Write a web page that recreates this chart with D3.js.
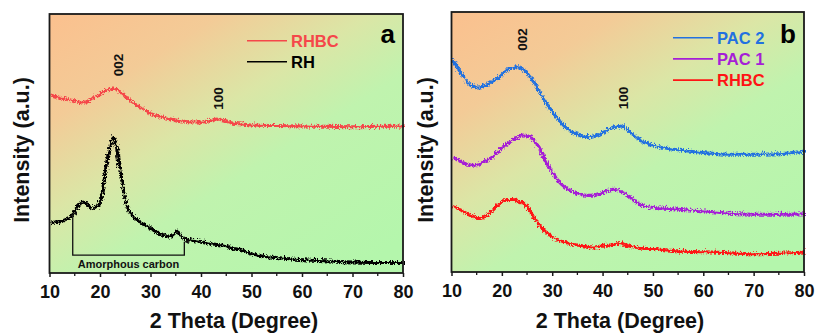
<!DOCTYPE html>
<html>
<head>
<meta charset="utf-8">
<script src="https://cdn.jsdelivr.net/npm/d3@7"></script>
<style>
  body { margin: 0; background: #fff; }
  svg { display: block; font-family: "Liberation Sans", Arial, sans-serif; }
</style>
</head>
<body>
<script>
// XRD patterns (2 theta in degrees, intensity in a.u.)

// panel a
var thetaRHBCa = [10,12,14,15,16,17,18,19,20,21,22,23,24,25,26,27,28,29,30,32,34,36,38,40,42,43,44,46,48,50,55,60,65,70,75,80];
var rhbcA = [69.1,68.0,67.2,66.8,66.4,66.4,67.6,68.7,69.9,71.0,71.4,71.4,69.9,68.3,66.8,65.3,64.1,62.9,61.8,60.6,59.8,59.1,58.7,58.7,59.5,59.8,59.5,58.3,57.9,57.5,57.3,57.1,57.0,56.9,57.0,57.1];

var thetaRH = [10,11,12,13,14,15,16,17,18,19,20,20.5,21,21.5,22,22.5,23,23.5,24,25,26,27,28,29,30,31,32,33,34,35,36,37,38,40,42,44,46,48,50,52,55,60,65,70,75,80];
var rh = [19.8,20.2,20.5,21.2,22.4,25.1,27.8,27.5,25.5,25.9,29.5,35.0,41.7,47.0,51.4,52.6,49.4,43.0,37.2,27.0,23.2,21.2,19.8,18.5,17.4,16.2,15.1,14.7,14.7,16.6,14.3,13.5,13.0,12.5,11.6,11.2,10.0,9.2,7.8,6.9,6.3,5.5,5.0,4.6,4.4,4.4];

// panel b
var thetaB = [10,11,12,13,14,15,16,17,18,19,20,21,22,23,24,25,26,27,28,29,30,31,32,33,34,35,36,37,38,39,40,41,42,43,44,45,46,47,48,49,50,52,55,60,65,70,75,80];
var pac2 = [82.2,79.0,75.8,73.2,71.9,71.5,71.9,72.6,73.8,75.1,77.0,78.3,79.0,79.3,78.3,76.4,73.8,70.7,67.4,64.2,61.4,59.1,56.9,55.3,54.0,53.3,52.7,52.4,52.7,53.3,54.3,55.3,56.2,56.5,56.2,54.6,53.0,51.4,50.4,49.6,49.1,48.2,47.3,46.3,45.7,45.7,45.9,46.9];
var pac1 = [44.3,43.7,42.4,41.8,41.4,41.8,42.8,43.7,45.0,46.7,48.5,50.1,51.4,52.3,53.1,52.7,51.4,48.8,45.0,41.2,38.0,35.4,33.5,32.2,31.3,30.5,30.0,29.9,30.0,30.5,31.2,31.9,32.2,31.9,30.9,29.6,28.0,26.7,25.8,25.4,25.2,24.9,24.5,23.8,23.0,22.6,22.6,22.8];
var rhbcB = [25.8,25.1,23.8,22.8,21.9,21.3,21.5,22.6,24.5,26.4,27.7,28.3,28.3,27.7,27.0,25.1,21.9,19.0,16.8,15.1,13.6,12.6,11.9,11.5,11.0,10.7,10.4,10.2,10.0,10.2,10.4,10.8,11.0,11.3,11.0,10.4,10.0,9.6,9.5,9.4,9.4,9.0,8.5,8.2,7.8,7.4,7.6,8.1];

var xTicks = [10,20,30,40,50,60,70,80];
var xMinor = [15,25,35,45,55,65,75];

var W = 816, H = 334;

var svg = d3.select("body").append("svg")
  .attr("width", W)
  .attr("height", H);

var defs = svg.append("defs");

// orange -> green backdrop
var grad = defs.append("linearGradient")
  .attr("id", "bg")
  .attr("x1", 0).attr("y1", 0)
  .attr("x2", 0.85).attr("y2", 1);
grad.append("stop").attr("offset", "0%").attr("stop-color", "#fbc08e");
grad.append("stop").attr("offset", "24%").attr("stop-color", "#f3cb97");
grad.append("stop").attr("offset", "45%").attr("stop-color", "#dbe6a6");
grad.append("stop").attr("offset", "63%").attr("stop-color", "#c0f3ae");
grad.append("stop").attr("offset", "100%").attr("stop-color", "#b4f6ac");

// rough up the strokes a little so they look like raw scans
var rough = defs.append("filter")
  .attr("id", "rough")
  .attr("x", "-5%").attr("y", "-20%")
  .attr("width", "110%").attr("height", "140%");
rough.append("feTurbulence")
  .attr("type", "turbulence")
  .attr("baseFrequency", "1.1 0.3")
  .attr("numOctaves", 2)
  .attr("seed", 3)
  .attr("result", "noise");
rough.append("feDisplacementMap")
  .attr("in", "SourceGraphic")
  .attr("in2", "noise")
  .attr("scale", 5)
  .attr("xChannelSelector", "R")
  .attr("yChannelSelector", "G");

defs.append("marker")
  .attr("id", "tip")
  .attr("viewBox", "0 0 6 6")
  .attr("refX", 3).attr("refY", 0)
  .attr("markerWidth", 3.5).attr("markerHeight", 3.5)
  .attr("orient", "auto-start-reverse")
  .append("path")
  .attr("d", "M0,6 L3,0 L6,6 Z")
  .attr("fill", "#111");

var panels = [
  {
    left: 49.5, top: 14, right: 403, bottom: 273,
    letter: "a", titleX: 234, ylabelX: 29,
    series: [
      {name: "RHBC", x: thetaRHBCa, y: rhbcA, color: "#f5474a"},
      {name: "RH", x: thetaRH, y: rh, color: "#000000"}
    ],
    legend: {x: 247, y: 40.7, gap: 21, textColor: ["#f5474a", "#000"]},
    peaks: [{t: 23.5, cy: 65, label: "002"}, {t: 43.3, cy: 98.5, label: "100"}],
    bracket: {from: 14.6, to: 36.7, top1: 23.0, top2: 12.1, low: 6.9}
  },
  {
    left: 451.5, top: 12, right: 804, bottom: 272,
    letter: "b", titleX: 620, ylabelX: 433,
    series: [
      {name: "RHBC", x: thetaB, y: rhbcB, color: "#ff1414"},
      {name: "PAC 1", x: thetaB, y: pac1, color: "#a51fd6"},
      {name: "PAC 2", x: thetaB, y: pac2, color: "#2271e0"}
    ],
    legend: {x: 673, y: 37.7, gap: 21.2, order: [2, 1, 0]},
    peaks: [{t: 24.0, cy: 39.5, label: "002"}, {t: 44.0, cy: 98, label: "100"}]
  }
];

panels.forEach(function(p) {
  var x = d3.scaleLinear().domain([10, 80]).range([p.left, p.right]);
  var y = d3.scaleLinear().domain([0, 100]).range([p.bottom, p.top]);

  var g = svg.append("g");

  g.append("rect")
    .attr("x", p.left).attr("y", p.top)
    .attr("width", p.right - p.left)
    .attr("height", p.bottom - p.top)
    .attr("fill", "url(#bg)");

  var line = d3.line()
    .x(function(d) { return x(d[0]); })
    .y(function(d) { return y(d[1]); })
    .curve(d3.curveMonotoneX);

  p.series.forEach(function(s) {
    var pts = s.x.map(function(t, i) { return [t, s.y[i]]; });
    g.append("path")
      .attr("d", line(pts))
      .attr("fill", "none")
      .attr("stroke", s.color)
      .attr("stroke-width", 3)
      .attr("stroke-linejoin", "round")
      .attr("filter", "url(#rough)");
  });

  // amorphous carbon bracket (panel a only)
  if (p.bracket) {
    var b = p.bracket;
    g.append("path")
      .attr("d", "M" + x(b.from) + "," + y(b.top1) +
                 "L" + x(b.from) + "," + y(b.low) +
                 "L" + x(b.to) + "," + y(b.low) +
                 "L" + x(b.to) + "," + y(b.top2))
      .attr("fill", "none")
      .attr("stroke", "#111")
      .attr("stroke-width", 1.3)
      .attr("marker-start", "url(#tip)")
      .attr("marker-end", "url(#tip)");
    g.append("text")
      .attr("x", (x(b.from) + x(b.to)) / 2)
      .attr("y", y(b.low) + 13)
      .attr("text-anchor", "middle")
      .attr("font-size", 11)
      .attr("font-weight", "bold")
      .attr("fill", "#111")
      .text("Amorphous carbon");
  }

  // reflection labels
  p.peaks.forEach(function(k) {
    g.append("text")
      .attr("transform", "translate(" + (x(k.t) + 5) + "," + k.cy + ") rotate(-90)")
      .attr("text-anchor", "middle")
      .attr("font-size", 13.5)
      .attr("font-weight", "bold")
      .attr("fill", "#111")
      .text(k.label);
  });

  // legend
  var order = p.legend.order || d3.range(p.series.length);
  order.forEach(function(si, i) {
    var s = p.series[si];
    var ly = p.legend.y + i * p.legend.gap;
    g.append("line")
      .attr("x1", p.legend.x).attr("x2", p.legend.x + 40)
      .attr("y1", ly).attr("y2", ly)
      .attr("stroke", s.color)
      .attr("stroke-width", 1.6);
    g.append("text")
      .attr("x", p.legend.x + 44)
      .attr("y", ly + 6)
      .attr("font-size", 16.5)
      .attr("font-weight", "bold")
      .attr("fill", p.legend.textColor ? p.legend.textColor[si] : s.color)
      .text(s.name);
  });

  // panel letter
  g.append("text")
    .attr("x", p.right - 8)
    .attr("y", 43)
    .attr("text-anchor", "end")
    .attr("font-size", 26)
    .attr("font-weight", "bold")
    .attr("fill", "#000")
    .text(p.letter);

  // frame
  g.append("rect")
    .attr("x", p.left).attr("y", p.top)
    .attr("width", p.right - p.left)
    .attr("height", p.bottom - p.top)
    .attr("fill", "none")
    .attr("stroke", "#1a1a1a")
    .attr("stroke-width", 1.8);

  // x axis
  var ax = g.append("g")
    .attr("transform", "translate(0," + p.bottom + ")")
    .call(d3.axisBottom(x).tickValues(xTicks).tickSize(4).tickPadding(8).tickFormat(d3.format("d")));
  ax.select(".domain").remove();
  ax.selectAll("line").attr("stroke", "#1a1a1a").attr("stroke-width", 1.5);
  ax.selectAll("text")
    .attr("font-size", 18)
    .attr("font-weight", "bold")
    .attr("font-family", "Liberation Sans, Arial, sans-serif")
    .attr("fill", "#111");

  g.append("g")
    .attr("transform", "translate(0," + p.bottom + ")")
    .selectAll("line")
    .data(xMinor)
    .enter()
    .append("line")
      .attr("x1", function(d) { return x(d); })
      .attr("x2", function(d) { return x(d); })
      .attr("y1", 0).attr("y2", 3)
      .attr("stroke", "#1a1a1a")
      .attr("stroke-width", 1.3);

  // axis titles
  g.append("text")
    .attr("x", p.titleX)
    .attr("y", 328)
    .attr("text-anchor", "middle")
    .attr("font-size", 21.5)
    .attr("font-weight", "bold")
    .attr("fill", "#111")
    .text("2 Theta (Degree)");

  g.append("text")
    .attr("transform", "translate(" + p.ylabelX + "," + 150 + ") rotate(-90)")
    .attr("text-anchor", "middle")
    .attr("font-size", 21.5)
    .attr("font-weight", "bold")
    .attr("fill", "#111")
    .text("Intensity (a.u.)");
});
</script>
</body>
</html>
